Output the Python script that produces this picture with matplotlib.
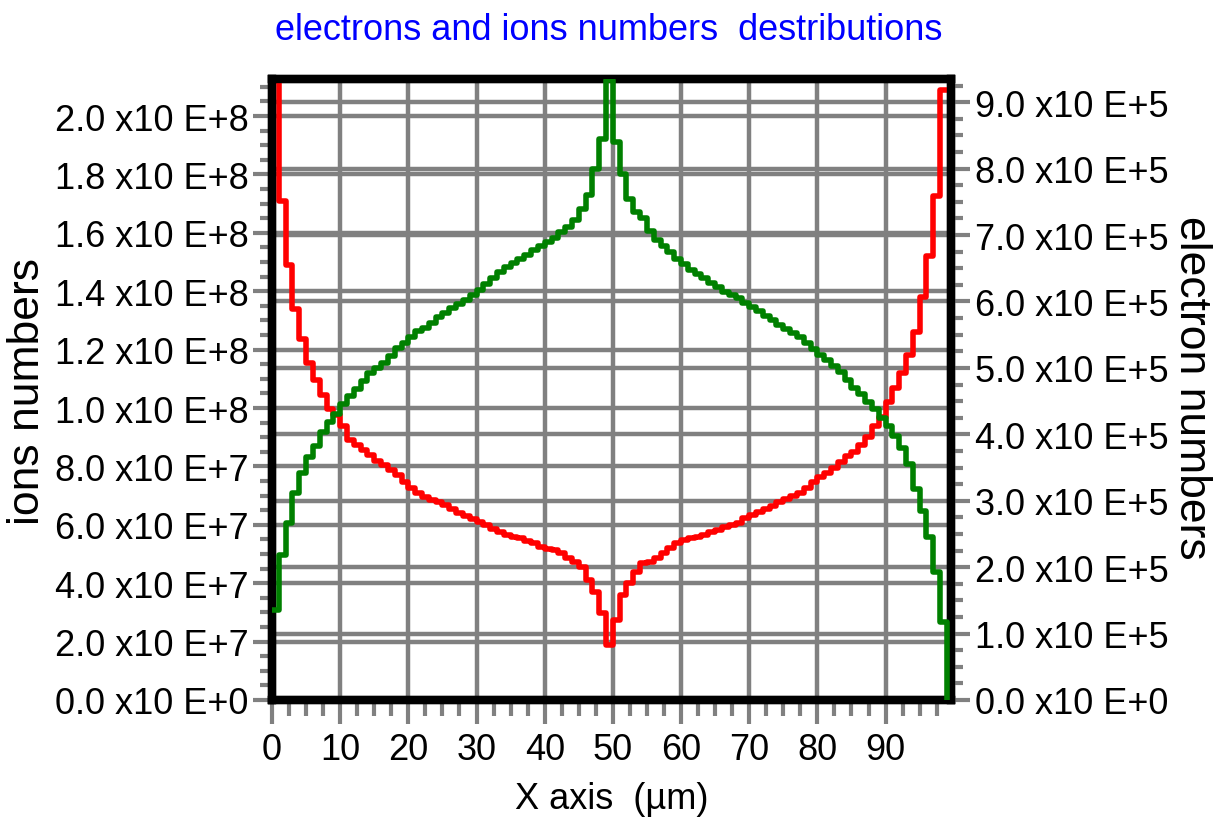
import numpy as np
import matplotlib
matplotlib.use("Agg")
import matplotlib.pyplot as plt
from matplotlib import font_manager
from matplotlib.ticker import MultipleLocator, FuncFormatter
from matplotlib.transforms import blended_transform_factory

# ion numbers per 1 um cell, in units of 1e7 (left axis)
ions_e7 = [
    21.2, 17.1, 14.9, 13.4, 12.35, 11.55, 10.95, 10.45, 9.95, 9.75,
    9.4, 8.92, 8.75, 8.55, 8.4, 8.2, 8.06, 7.89, 7.72, 7.45,
    7.25, 7.1, 6.95, 6.86, 6.79, 6.69, 6.55, 6.4, 6.3, 6.2,
    6.1, 6.0, 5.85, 5.75, 5.66, 5.6, 5.56, 5.45, 5.38, 5.25,
    5.18, 5.14, 5.04, 4.87, 4.73, 4.56, 4.12, 3.70, 2.98, 1.89,
    2.74, 3.60, 4.01, 4.39, 4.70, 4.73, 4.87, 5.04, 5.2, 5.38,
    5.49, 5.56, 5.59, 5.66, 5.76, 5.83, 5.93, 6.0, 6.07, 6.24,
    6.35, 6.45, 6.55, 6.65, 6.78, 6.9, 7.0, 7.1, 7.27, 7.48,
    7.65, 7.79, 7.95, 8.15, 8.35, 8.5, 8.75, 9.0, 9.4, 9.7,
    10.2, 10.7, 11.2, 11.8, 12.6, 13.8, 15.2, 17.25, 20.9,
]

# electron numbers per 1 um cell, in units of 1e5 (right axis)
electrons_e5 = [
    1.36, 2.19, 2.67, 3.12, 3.42, 3.66, 3.82, 4.03, 4.18, 4.3,
    4.45, 4.58, 4.68, 4.80, 4.92, 5.0, 5.08, 5.18, 5.30, 5.38,
    5.46, 5.55, 5.60, 5.68, 5.76, 5.83, 5.90, 5.96, 6.03, 6.10,
    6.18, 6.27, 6.36, 6.45, 6.52, 6.58, 6.64, 6.70, 6.77, 6.83,
    6.89, 6.96, 7.04, 7.12, 7.22, 7.40, 7.60, 8.0, 8.44, 9.34,
    8.40, 7.92, 7.54, 7.34, 7.25, 7.06, 6.93, 6.83, 6.74, 6.64,
    6.56, 6.48, 6.41, 6.35, 6.28, 6.22, 6.15, 6.10, 6.05, 5.98,
    5.92, 5.85, 5.78, 5.72, 5.65, 5.58, 5.52, 5.46, 5.38, 5.28,
    5.20, 5.12, 5.03, 4.94, 4.82, 4.70, 4.60, 4.48, 4.38, 4.25,
    4.12, 3.97, 3.80, 3.55, 3.17, 2.84, 2.46, 1.93, 1.18,
]

ions = np.array(ions_e7) * 1e7
electrons = np.array(electrons_e5) * 1e5
edges = np.arange(len(ions) + 1)  # cell edges, 0..99 um

title = "electrons and ions numbers  destributions"
x_label = "X axis  (\u00b5m)"
left_label = "ions numbers"
right_label = "electron numbers"

x_max = 99.6
ions_top = 2.127e8
electrons_top = 9.35e5

colors = {
    "ions": "#ff0000",
    "electrons": "#008000",
    "grid": "#808080",
    "title": "#0000ff",
    "text": "#000000",
}

# narrow face for horizontal text if it is there
installed = {f.name for f in font_manager.fontManager.ttflist}
if "Liberation Sans Narrow" in installed:
    text_font, text_size = ["Liberation Sans Narrow", "DejaVu Sans"], 31
else:
    text_font, text_size = ["Liberation Sans", "DejaVu Sans"], 26
side_font = ["Liberation Sans", "DejaVu Sans"]
plt.rcParams["font.family"] = text_font


def sci_label(v, pos):
    if abs(v) < 1e-9:
        return "0.0 x10 E+0"
    exp = int(np.floor(np.log10(abs(v)) + 1e-9))
    return f"{v / 10 ** exp:.1f} x10 E+{exp}"


W, H = 1218, 829
fig = plt.figure(figsize=(W / 100, H / 100), dpi=100)
fig.patch.set_facecolor("white")
ax = fig.add_axes([272 / W, 1 - 701 / H, 679 / W, 621 / H])
ax2 = ax.twinx()

ax.set_xlim(0, x_max)
ax.set_ylim(0, ions_top)
ax2.set_ylim(0, electrons_top)

ax.xaxis.set_major_locator(MultipleLocator(10))
ax.xaxis.set_minor_locator(MultipleLocator(2.5))
ax.yaxis.set_major_locator(MultipleLocator(2e7))
ax.yaxis.set_minor_locator(MultipleLocator(5e6))
ax2.yaxis.set_major_locator(MultipleLocator(1e5))
ax2.yaxis.set_minor_locator(MultipleLocator(2.5e4))
ax.yaxis.set_major_formatter(FuncFormatter(sci_label))
ax2.yaxis.set_major_formatter(FuncFormatter(sci_label))

# grid: x and left y on the main axes, right y lines drawn there too
grid_lw = 3.2
ax.set_axisbelow(True)
ax.grid(True, which="major", color=colors["grid"], linewidth=grid_lw)
right_grid = blended_transform_factory(ax.transAxes, ax2.transData)
for v in ax2.yaxis.get_majorticklocs():
    if 0 <= v <= electrons_top:
        ax.plot([0, 1], [v, v], transform=right_grid, color=colors["grid"],
                linewidth=grid_lw, zorder=0.9, solid_capstyle="butt")

# step curves
ax.step(edges, np.append(ions, ions[-1]), where="post",
        color=colors["ions"], linewidth=4.0, zorder=3)
ax2.step(edges, np.append(electrons, 0), where="post",
         color=colors["electrons"], linewidth=4.0, zorder=3)

# ticks
tick_w = 3.0
ax.tick_params(axis="y", which="major", direction="out", length=14, width=tick_w,
               color=colors["grid"], pad=3, labelsize=text_size)
ax.tick_params(axis="y", which="minor", direction="out", length=8.5, width=tick_w,
               color=colors["grid"])
ax.tick_params(axis="x", which="major", direction="out", length=17, width=tick_w,
               color=colors["grid"], pad=6, labelsize=text_size)
ax.tick_params(axis="x", which="minor", direction="out", length=11.5, width=tick_w,
               color=colors["grid"])
ax2.tick_params(axis="y", which="major", direction="out", length=14, width=tick_w,
                color=colors["grid"], pad=3, labelsize=text_size)
ax2.tick_params(axis="y", which="minor", direction="out", length=8.5, width=tick_w,
                color=colors["grid"])

for a in (ax, ax2):
    for s in a.spines.values():
        s.set_linewidth(6)
        s.set_color("black")
        s.set_capstyle("projecting")

# texts
fig.text(0.5, 1 - 30 / H, title, ha="center", va="center",
         fontsize=text_size, color=colors["title"])
fig.text(612 / W, 1 - 800 / H, x_label, ha="center", va="center",
         fontsize=text_size, color=colors["text"])
fig.text(28 / W, 1 - 392 / H, left_label, ha="center", va="center",
         rotation=90, fontsize=32, family=side_font, color=colors["text"])
fig.text(1192 / W, 1 - 388 / H, right_label, ha="center", va="center",
         rotation=270, fontsize=32, family=side_font, color=colors["text"])

fig.savefig("out.png", dpi=100, facecolor="white")
plt.close(fig)
